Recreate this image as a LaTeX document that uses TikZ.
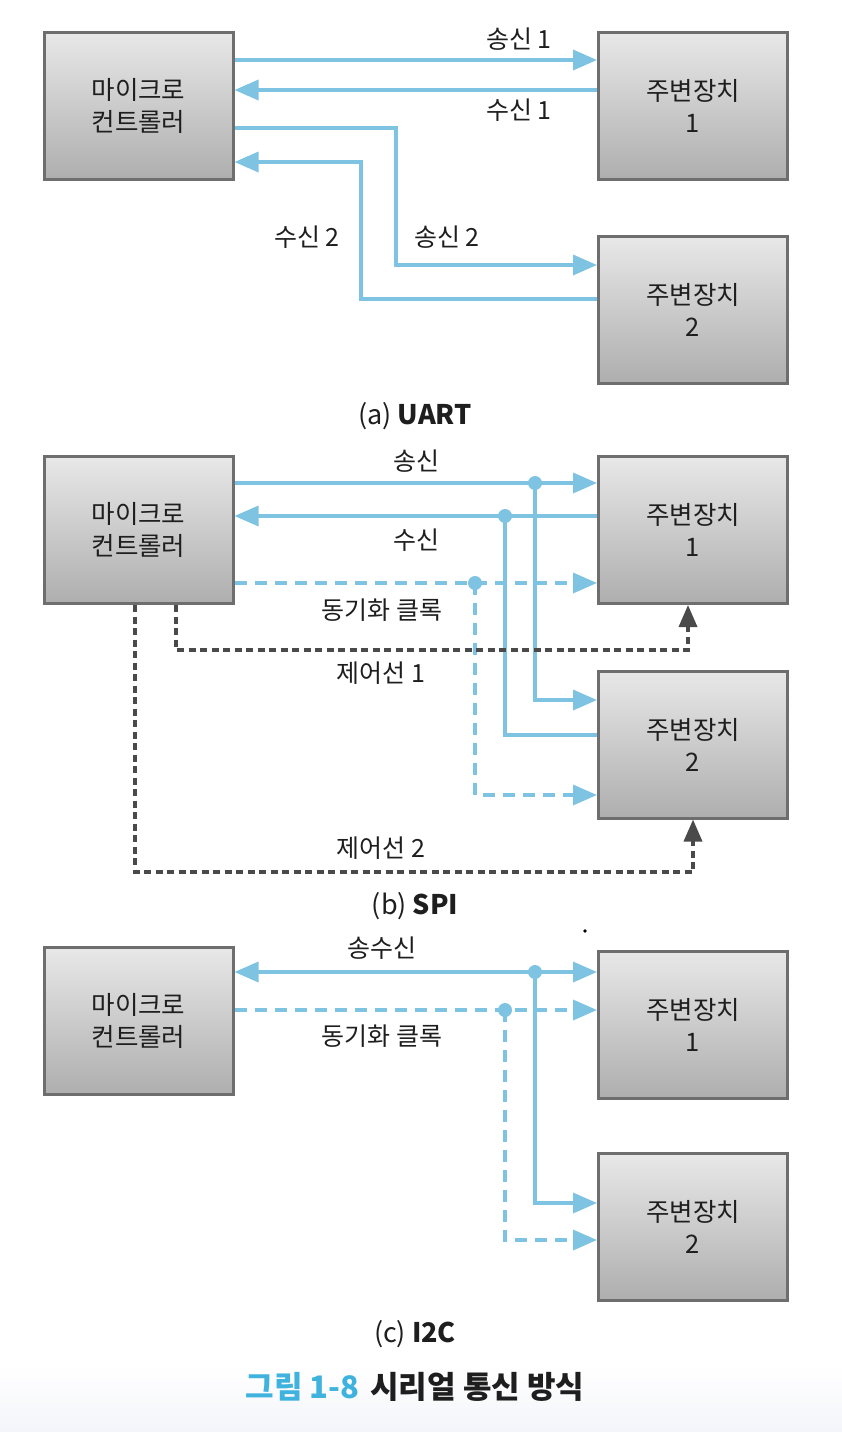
\documentclass[tikz,border=0pt]{standalone}
\usepackage{fontspec}
\newfontfamily\kr{Noto Sans CJK KR}
\usetikzlibrary{arrows.meta}
\definecolor{sigblue}{HTML}{7EC4E2}
\definecolor{boxborder}{HTML}{6E6E6E}
\definecolor{boxtop}{HTML}{E8E8E8}
\definecolor{boxbot}{HTML}{AEAEAE}
\definecolor{ctlgray}{HTML}{4A4A4A}
\definecolor{txt}{HTML}{1E1E1E}
\definecolor{titleblue}{HTML}{3FB3DD}
\begin{document}
\begin{tikzpicture}[x=1pt,y=-1pt,
  box/.style={draw=boxborder, line width=3pt, top color=boxtop, bottom color=boxbot,
    minimum width=189pt, minimum height=147pt, inner sep=0pt, align=center,
    font=\kr\fontsize{25.5}{32}\selectfont, text=txt},
  sig/.style={draw=sigblue, line width=3.5pt},
  sigdash/.style={sig, dash pattern=on 12pt off 8pt},
  arr/.style={-{Triangle[length=24pt,width=20pt]}},
  arrl/.style={{Triangle[length=24pt,width=20pt]}-},
  arrb/.style={{Triangle[length=24pt,width=20pt]}-{Triangle[length=24pt,width=20pt]}},
  ctl/.style={draw=ctlgray, line width=3.5pt, dash pattern=on 7pt off 4.5pt, -{Triangle[length=22pt,width=18pt]}},
  lab/.style={font=\kr\fontsize{25}{28}\selectfont, text=txt, inner sep=0pt},
  capt/.style={font=\kr\fontsize{27}{30}\selectfont, text=txt, inner sep=0pt},
  junc/.style={circle, fill=sigblue, minimum size=14pt, inner sep=0pt}
]
\useasboundingbox (0,0) rectangle (842,1432);
\fill[top color=white, bottom color={rgb,255:red,244;green,245;blue,250}, draw=none] (0,1365) rectangle (842,1432);

% ---------------- (a) UART ----------------
\node[box] (mcuA) at (138.5,106) {마이크로\\컨트롤러};
\node[box] (p1A) at (693,106) {주변장치\\1};
\node[box] (p2A) at (693,309.5) {주변장치\\2};

\draw[sig,arr] (mcuA.east |- 0,60) -- (p1A.west |- 0,60);
\draw[sig,arrl] (mcuA.east |- 0,90) -- (p1A.west |- 0,90);
\draw[sig,arr] (mcuA.east |- 0,128) -- (396,128) -- (396,265) -- (p2A.west |- 0,265);
\draw[sig,arrl] (mcuA.east |- 0,162) -- (361,162) -- (361,299) -- (p2A.west |- 0,299);

\node[lab] (tA1) at (519,39) {송신 1};
\node[lab] (rA1) at (519,110) {수신 1};
\node[lab] (tA2) at (447,237) {송신 2};
\node[lab] (rA2) at (307,237) {수신 2};
\node[capt] (capA) at (415,416) {(a) \bfseries UART};

% ---------------- (b) SPI ----------------
\node[box] (mcuB) at (138.5,530) {마이크로\\컨트롤러};
\node[box] (p1B) at (693,530) {주변장치\\1};
\node[box] (p2B) at (693,744.5) {주변장치\\2};

\coordinate (jB1) at (535,483);
\coordinate (jB2) at (505,516);
\coordinate (jB3) at (475,583);

\draw[sig,arr] (mcuB.east |- jB1) -- (p1B.west |- jB1);
\draw[sig,arrl] (mcuB.east |- jB2) -- (p1B.west |- jB2);
\draw[sigdash,arr] (mcuB.east |- jB3) -- (p1B.west |- jB3);
\draw[sig,arr] (jB1) -- (535,700) -- (p2B.west |- 0,700);
\draw[sig] (jB2) -- (505,735) -- (p2B.west |- 0,735);
\draw[sigdash,arr] (jB3) -- (475,795) -- (p2B.west |- 0,795);
\node[junc] at (jB1) {};
\node[junc] at (jB2) {};
\node[junc] at (jB3) {};

\draw[ctl] (mcuB.south -| 176,0) -- (176,650) -- (688,650) -- (p1B.south -| 688,0);
\draw[ctl] (mcuB.south -| 135,0) -- (135,872) -- (693,872) -- (p2B.south -| 693,0);

\node[lab] (tB) at (416,461) {송신};
\node[lab] (rB) at (416,540) {수신};
\node[lab] (cB) at (382,610) {동기화 클록};
\node[lab] (c1B) at (381,673) {제어선 1};
\node[lab] (c2B) at (381,848) {제어선 2};
\node[capt] (capB) at (415,906) {(b) \bfseries SPI};

\fill[black] (585,931) circle (1.8pt);

% ---------------- (c) I2C ----------------
\node[box] (mcuC) at (138.5,1021) {마이크로\\컨트롤러};
\node[box] (p1C) at (693,1024.5) {주변장치\\1};
\node[box] (p2C) at (693,1227) {주변장치\\2};

\coordinate (jC1) at (535,972);
\coordinate (jC2) at (505,1010);

\draw[sig,arrb] (mcuC.east |- jC1) -- (p1C.west |- jC1);
\draw[sigdash,arr] (mcuC.east |- jC2) -- (p1C.west |- jC2);
\draw[sig,arr] (jC1) -- (535,1203) -- (p2C.west |- 0,1203);
\draw[sigdash,arr] (jC2) -- (505,1240) -- (p2C.west |- 0,1240);
\node[junc] at (jC1) {};
\node[junc] at (jC2) {};

\node[lab] (tC) at (382,948) {송수신};
\node[lab] (cC) at (382,1036) {동기화 클록};
\node[capt] (capC) at (415,1334) {(c) \bfseries I2C};

% ---------------- title ----------------
\node[font=\kr\bfseries\fontsize{31}{36}\selectfont, inner sep=0pt] (title) at (415,1387)
  {\textcolor{titleblue}{그림 1-8}\hspace{11pt}\textcolor{txt}{시리얼 통신 방식}};
\end{tikzpicture}
\end{document}
